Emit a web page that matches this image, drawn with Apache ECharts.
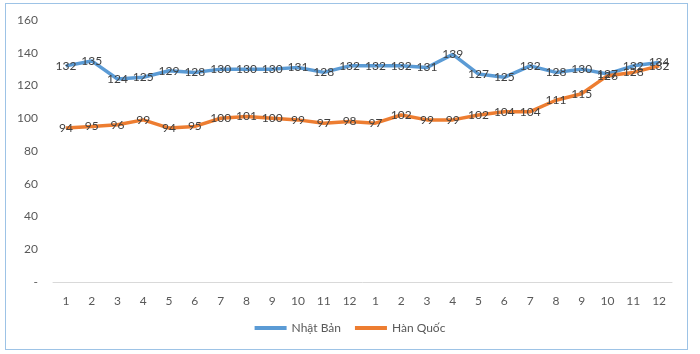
<!DOCTYPE html>
<html>
<head>
<meta charset="utf-8">
<script src="https://cdn.jsdelivr.net/npm/echarts@6/dist/echarts.min.js"></script>
<style>
    html, body { margin: 0; padding: 0; background: #fff; }
    #frame {
        position: absolute; left: 5px; top: 3px;
        width: 681px; height: 345px;
        border: 1.5px solid #9dc3e6;
    }
    #chart { position: absolute; left: 0; top: 0; width: 700px; height: 354px; }
</style>
</head>
<body>
<div id="frame"></div>
<div id="chart"></div>
<script>
var months = ['1','2','3','4','5','6','7','8','9','10','11','12',
              '1','2','3','4','5','6','7','8','9','10','11','12'];
var nhatBan = [132, 135, 124, 125, 129, 128, 130, 130, 130, 131, 128, 132,
               132, 132, 131, 139, 127, 125, 132, 128, 130, 127, 132, 134];
var hanQuoc = [94, 95, 96, 99, 94, 95, 100, 101, 100, 99, 97, 98,
               97, 102, 99, 99, 102, 104, 104, 111, 115, 126, 128, 132];
var yTicks = [0, 20, 40, 60, 80, 100, 120, 140, 160];

var chart = echarts.init(document.getElementById('chart'));

function lineSeries(name, data, color) {
    return {
        name: name,
        type: 'line',
        data: data,
        symbol: 'circle',
        symbolSize: 1,
        showSymbol: true,
        itemStyle: { color: color },
        lineStyle: { color: color, width: 3.5 },
        label: {
            show: true,
            position: 'inside',
            color: '#404040',
            fontSize: 12,
            fontFamily: 'Lato'
        },
        labelLayout: { hideOverlap: false },
        emphasis: { disabled: true }
    };
}

chart.setOption({
    animation: false,
    textStyle: { fontFamily: 'Lato' },
    grid: { left: 53, right: 28, top: 20, bottom: 72 },
    xAxis: {
        type: 'category',
        data: months,
        boundaryGap: true,
        axisLine: { lineStyle: { color: '#d9d9d9', width: 1 } },
        axisTick: { show: false },
        axisLabel: { color: '#595959', fontSize: 12, margin: 13, interval: 0 },
        splitLine: { show: false }
    },
    yAxis: {
        type: 'value',
        min: yTicks[0],
        max: yTicks[yTicks.length - 1],
        interval: 20,
        axisLine: { show: false },
        axisTick: { show: false },
        splitLine: { show: false },
        axisLabel: {
            color: '#595959',
            fontSize: 12,
            margin: 15,
            formatter: function (v) { return v === 0 ? '-' : v; }
        }
    },
    legend: {
        bottom: 15,
        left: 'center',
        itemWidth: 32,
        itemHeight: 4,
        itemGap: 14,
        icon: 'rect',
        textStyle: { color: '#595959', fontSize: 12 },
        data: ['Nhật Bản', 'Hàn Quốc']
    },
    series: [
        lineSeries('Nhật Bản', nhatBan, '#5b9bd5'),
        lineSeries('Hàn Quốc', hanQuoc, '#ed7d31')
    ]
});
</script>
</body>
</html>
